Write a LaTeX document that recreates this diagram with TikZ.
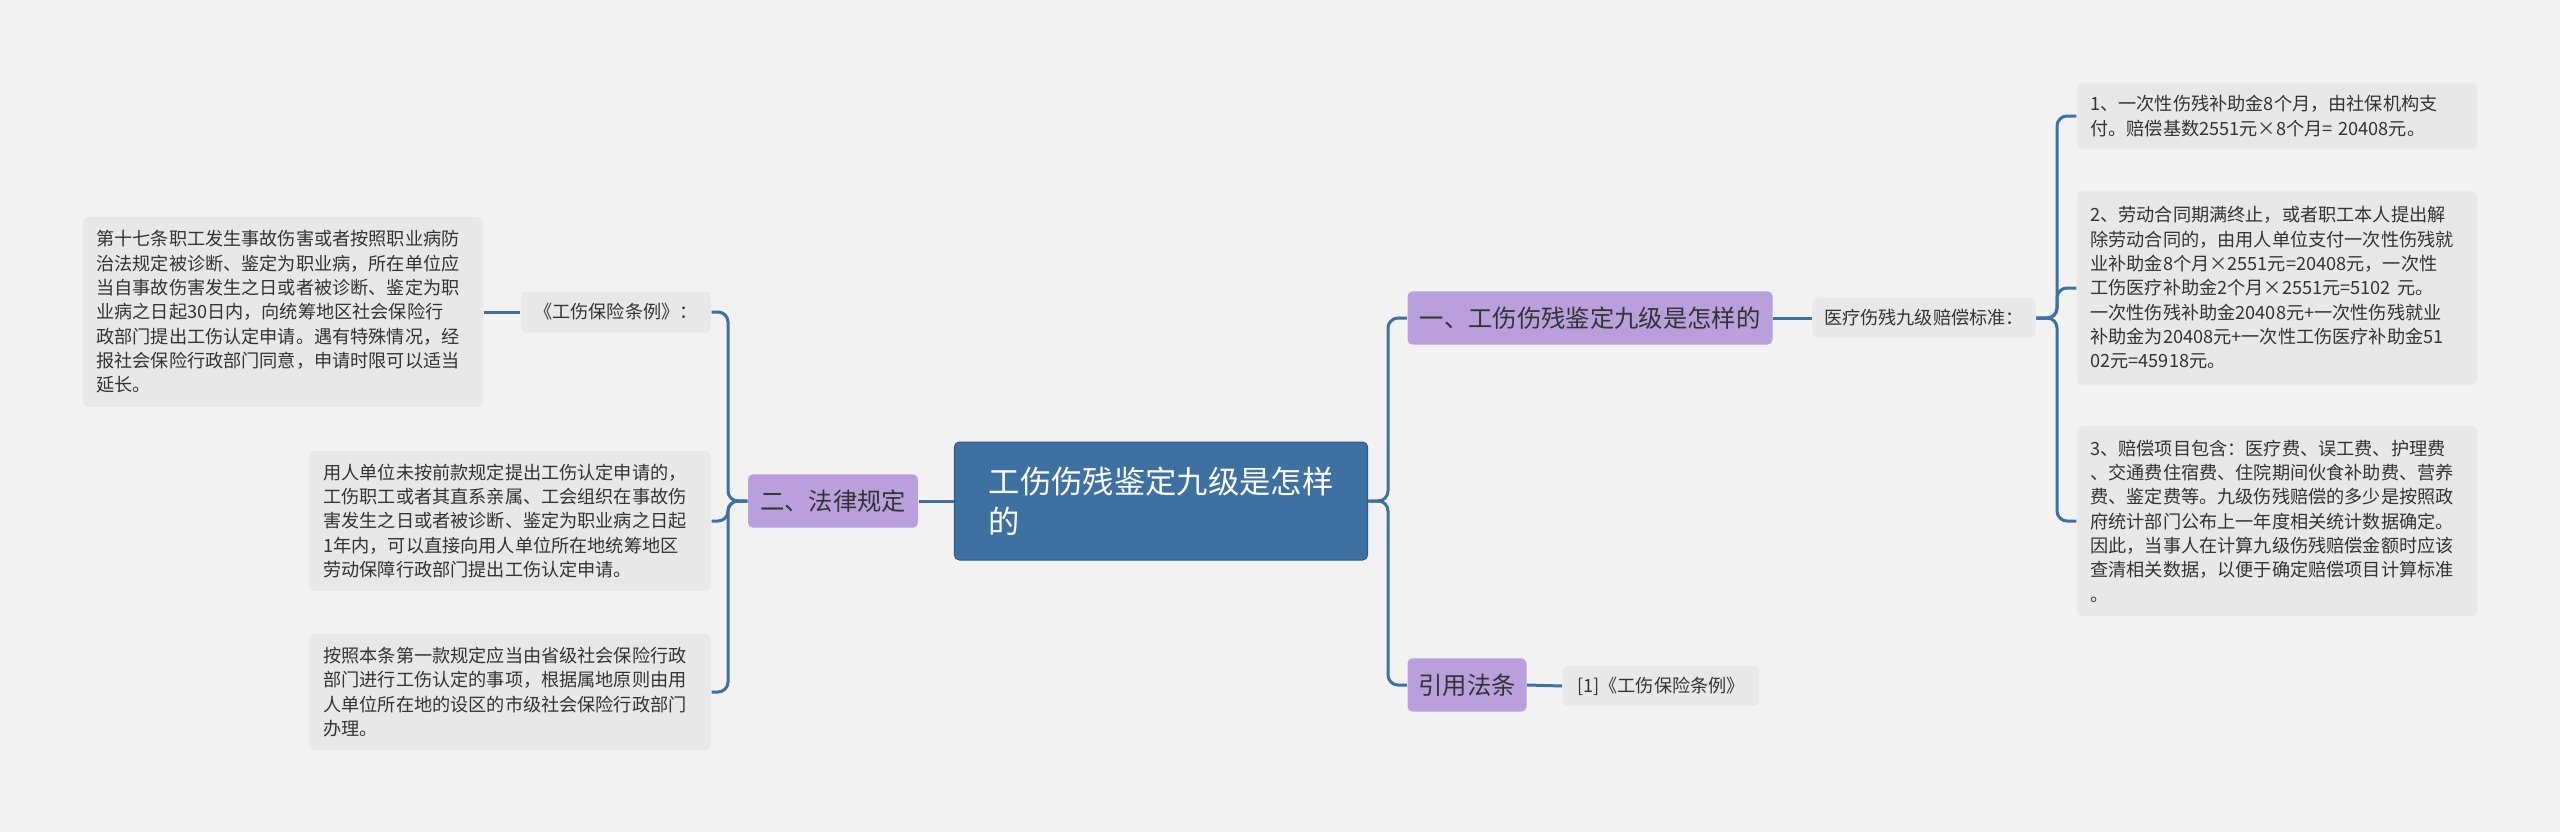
\documentclass[tikz,border=0pt]{standalone}
\usepackage{fontspec}
\setmainfont{Noto Sans CJK SC}
\begin{document}
\begin{tikzpicture}[x=0.3pt,y=-0.3pt,
  root/.style={fill=rootblue,draw=rootline,line width=0.3pt,rounded corners=1.5pt,text=white,font=\fontsize{9.4pt}{12pt}\selectfont,align=left,inner sep=0pt,minimum width=124pt,minimum height=35.4pt},
  branch/.style={fill=purp,rounded corners=1.5pt,text=txt,font=\fontsize{7.3pt}{9pt}\selectfont,inner sep=0pt,minimum height=16pt},
  leaf/.style={fill=leafg,rounded corners=1.5pt,text=txt,font=\fontsize{5.45pt}{7.3pt}\selectfont,align=left,inner sep=0pt},
  conn/.style={draw=rootblue,line width=0.9pt,rounded corners=3pt}]
\definecolor{bg}{HTML}{F2F2F2}
\definecolor{rootblue}{HTML}{3E70A2}
\definecolor{rootline}{HTML}{2F5A86}
\definecolor{purp}{HTML}{B9A0DC}
\definecolor{leafg}{HTML}{E8E8E8}
\definecolor{txt}{HTML}{333333}
\fill[bg] (0,0) rectangle (2560,832);
\useasboundingbox (0,0) rectangle (2560,832);
\node[root] (c) at (1161,501) {工伤伤残鉴定九级是怎样\\的};
\node[branch,minimum width=109.5pt] (b1) at (1590,318) {一、工伤伤残鉴定九级是怎样的};
\node[branch,minimum width=35.7pt] (b3) at (1467,685) {引用法条};
\node[branch,minimum width=51pt] (b2) at (833,501) {二、法律规定};
\node[leaf,minimum width=67pt,minimum height=12pt,align=center] (m) at (1924,318) {医疗伤残九级赔偿标准：};
\node[leaf,minimum width=120pt,minimum height=20pt,text width=112pt] (r1) at (2277,116) {1、一次性伤残补助金8个月，由社保机构支\\付。赔偿基数2551元×8个月= 20408元。};
\node[leaf,minimum width=120pt,minimum height=58pt,text width=112pt] (r2) at (2277,288) {2、劳动合同期满终止，或者职工本人提出解\\除劳动合同的，由用人单位支付一次性伤残就\\业补助金8个月×2551元=20408元，一次性\\工伤医疗补助金2个月×2551元=5102 元。\\一次性伤残补助金20408元+一次性伤残就业\\补助金为20408元+一次性工伤医疗补助金51\\02元=45918元。};
\node[leaf,minimum width=120pt,minimum height=57pt,text width=112pt] (r3) at (2277,521) {3、赔偿项目包含：医疗费、误工费、护理费\\、交通费住宿费、住院期间伙食补助费、营养\\费、鉴定费等。九级伤残赔偿的多少是按照政\\府统计部门公布上一年度相关统计数据确定。\\因此，当事人在计算九级伤残赔偿金额时应该\\查清相关数据，以便于确定赔偿项目计算标准\\。};
\node[leaf,minimum width=59pt,minimum height=12pt,align=center] (l3) at (1661,686) {[1]《工伤保险条例》};
\node[leaf,minimum width=57pt,minimum height=12.3pt,align=center] (g) at (616,312) {《工伤保险条例》：};
\node[leaf,minimum width=120pt,minimum height=57pt,text width=112pt] (g1) at (283,312) {第十七条职工发生事故伤害或者按照职业病防\\治法规定被诊断、鉴定为职业病，所在单位应\\当自事故伤害发生之日或者被诊断、鉴定为职\\业病之日起30日内，向统筹地区社会保险行\\政部门提出工伤认定申请。遇有特殊情况，经\\报社会保险行政部门同意，申请时限可以适当\\延长。};
\node[leaf,minimum width=120.5pt,minimum height=42pt,text width=112pt] (g2) at (510,521) {用人单位未按前款规定提出工伤认定申请的，\\工伤职工或者其直系亲属、工会组织在事故伤\\害发生之日或者被诊断、鉴定为职业病之日起\\1年内，可以直接向用人单位所在地统筹地区\\劳动保障行政部门提出工伤认定申请。};
\node[leaf,minimum width=120.5pt,minimum height=35pt,text width=112pt] (g3) at (510,692) {按照本条第一款规定应当由省级社会保险行政\\部门进行工伤认定的事项，根据属地原则由用\\人单位所在地的设区的市级社会保险行政部门\\办理。};
\coordinate (jr) at (1388,501);
\coordinate (jm) at (2057,318);
\coordinate (jl) at (728,501);
\draw[conn] (c.east) -- (jr) |- (b1.west);
\draw[conn] (c.east) -- (jr) |- (b3.west);
\draw[conn] (c.west) -- (b2.east);
\draw[conn] (b1.east) -- (m.west);
\draw[conn] (b3.east) -- (l3.west);
\draw[conn] (m.east) -- (jm) |- (r1.west);
\draw[conn] (m.east) -- (jm) |- (r2.west);
\draw[conn] (m.east) -- (jm) |- (r3.west);
\draw[conn] (b2.west) -- (jl) |- (g.east);
\draw[conn] (b2.west) -- (jl) |- (g2.east);
\draw[conn] (b2.west) -- (jl) |- (g3.east);
\draw[conn] (g.west) -- (g1.east);
\end{tikzpicture}
\end{document}
